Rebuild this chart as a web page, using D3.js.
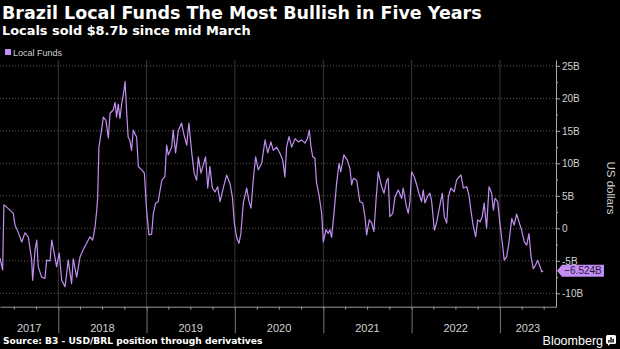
<!DOCTYPE html>
<html>
<head>
<meta charset="utf-8">
<script src="https://cdn.jsdelivr.net/npm/d3@7"></script>
<style>
  html, body { margin: 0; padding: 0; background: #000; }
  svg { display: block; }
</style>
</head>
<body>
<svg id="chart" width="620" height="349"></svg>
<script>
// Net USD/BRL position of local funds, B3 derivatives (billions of US dollars)
const dates = [
  "2017-05-05","2017-05-16","2017-05-21","2017-05-26","2017-06-15","2017-06-29","2017-07-06","2017-07-20",
  "2017-08-03","2017-08-16","2017-08-30","2017-09-13","2017-09-17","2017-09-27","2017-10-04","2017-10-10",
  "2017-10-24","2017-11-07","2017-11-14","2017-11-28","2017-12-05","2017-12-11","2017-12-18","2017-12-25",
  "2018-01-05","2018-01-15","2018-01-29","2018-02-11","2018-02-25","2018-03-04","2018-03-18","2018-04-01",
  "2018-04-14","2018-04-28","2018-05-12","2018-05-23","2018-06-02","2018-06-09","2018-06-13","2018-06-18",
  "2018-06-27","2018-07-06","2018-07-17","2018-07-27","2018-08-03","2018-08-16","2018-08-24","2018-08-30",
  "2018-09-06","2018-09-13","2018-09-20","2018-09-30","2018-10-04","2018-10-11","2018-10-17","2018-10-24",
  "2018-10-31","2018-11-07","2018-11-21","2018-11-28","2018-12-12","2018-12-23","2019-01-01","2019-01-11",
  "2019-01-22","2019-01-29","2019-02-08","2019-02-18","2019-03-05","2019-03-18","2019-03-25","2019-04-01",
  "2019-04-15","2019-04-21","2019-05-01","2019-05-12","2019-05-26","2019-06-02","2019-06-16","2019-06-25",
  "2019-07-07","2019-07-17","2019-07-27","2019-08-03","2019-08-14","2019-08-24","2019-09-02","2019-09-11",
  "2019-09-20","2019-09-30","2019-10-11","2019-10-22","2019-11-01","2019-11-14","2019-11-28","2019-12-12",
  "2019-12-22","2019-12-30","2020-01-09","2020-01-18","2020-01-26","2020-02-05","2020-02-19","2020-02-29",
  "2020-03-08","2020-03-17","2020-03-27","2020-04-07","2020-04-21","2020-05-05","2020-05-16","2020-05-29",
  "2020-06-08","2020-06-22","2020-07-06","2020-07-17","2020-07-26","2020-08-02","2020-08-12","2020-08-23",
  "2020-09-06","2020-09-19","2020-10-03","2020-10-17","2020-10-27","2020-11-04","2020-11-10","2020-11-18",
  "2020-11-27","2020-12-04","2020-12-15","2020-12-25","2021-01-01","2021-01-12","2021-01-21","2021-01-28",
  "2021-02-04","2021-02-14","2021-02-25","2021-03-07","2021-03-14","2021-03-27","2021-04-10","2021-04-21",
  "2021-04-28","2021-05-05","2021-05-19","2021-06-01","2021-06-13","2021-06-22","2021-06-29","2021-07-10",
  "2021-07-20","2021-07-29","2021-08-07","2021-08-16","2021-08-30","2021-09-09","2021-09-20","2021-09-26",
  "2021-10-03","2021-10-15","2021-10-24","2021-11-07","2021-11-21","2021-11-27","2021-12-11","2021-12-18",
  "2021-12-25","2022-01-01","2022-01-12","2022-01-22","2022-01-31","2022-02-11","2022-02-18","2022-02-25",
  "2022-03-08","2022-03-18","2022-03-25","2022-04-05","2022-04-15","2022-04-24","2022-05-08","2022-05-16",
  "2022-05-26","2022-06-02","2022-06-13","2022-06-26","2022-07-06","2022-07-16","2022-07-24","2022-08-03",
  "2022-08-17","2022-08-26","2022-09-03","2022-09-13","2022-09-23","2022-10-01","2022-10-11","2022-10-20",
  "2022-10-28","2022-11-07","2022-11-17","2022-11-28","2022-12-05","2022-12-12","2022-12-23","2023-01-01",
  "2023-01-11","2023-01-19","2023-01-29","2023-02-07","2023-02-19","2023-03-01","2023-03-11","2023-03-21",
  "2023-04-01","2023-04-12","2023-04-22","2023-05-01","2023-05-10","2023-05-19","2023-05-29","2023-06-06",
  "2023-06-16","2023-06-23","2023-06-29"
];
const localFunds = [
  -4.6, -6.4, 3.6, 3.5, 2.8, 2.3, 0.5, -0.7,
  -2.1, -0.7, -1.3, -4.9, -8.0, -3.3, -1.8, -5.9,
  -7.5, -7.7, -4.9, -5.0, -1.8, -3.0, -4.4, -5.9,
  -3.8, -8.0, -9.0, -4.9, -8.5, -4.7, -7.5, -4.4,
  -3.3, -2.3, -1.3, -1.8, 0.2, 2.8, 4.8, 12.5,
  14.6, 17.1, 16.6, 13.9, 17.7, 18.2, 19.4, 17.1,
  19.1, 16.9, 19.1, 21.3, 22.6, 17.7, 14.0, 13.5,
  12.0, 15.1, 14.0, 9.5, 9.0, 8.5, 2.8, -1.0,
  -0.9, 2.3, 3.9, 4.1, 7.4, 8.0, 12.8, 11.3,
  12.5, 15.1, 11.6, 15.0, 16.2, 14.8, 12.8, 16.2,
  11.6, 8.5, 7.4, 11.0, 8.5, 9.8, 11.0, 6.2,
  9.5, 6.2, 5.6, 6.4, 4.1, 6.2, 8.2, 6.9,
  4.8, 0.8, -1.5, -2.3, -0.8, 3.9, 6.2, 4.1,
  3.1, 7.4, 11.0, 9.0, 10.0, 13.6, 11.6, 13.3,
  12.0, 12.5, 11.5, 10.5, 7.9, 12.5, 14.1, 12.5,
  13.8, 13.3, 13.6, 13.1, 13.8, 15.1, 12.8, 11.0,
  10.8, 7.0, 4.9, 2.3, -2.1, -0.2, -0.8, -0.2,
  -1.4, 2.3, 7.0, 10.0, 8.7, 11.3, 10.5, 9.2,
  6.7, 7.7, 7.4, 4.1, 3.9, 1.8, -1.0, 1.3,
  0.8, -0.5, 4.4, 8.7, 6.4, 5.4, 7.4, 7.7,
  1.8, 2.3, 4.8, 5.9, 4.6, 6.2, 3.3, 2.3,
  4.1, 8.7, 7.9, 6.7, 5.4, 4.1, 5.9, 3.9,
  4.9, 5.4, 4.1, -0.3, 1.0, 2.8, 5.4, 1.8,
  0.8, 4.9, 6.2, 5.6, 7.4, 7.9, 8.2, 6.2,
  6.4, 5.1, 2.8, 0.3, -1.3, 1.3, 1.0, 1.8,
  3.9, 0.0, 6.4, 5.4, 2.8, 4.6, 4.1, 0.8,
  -2.3, -4.9, -4.4, -2.3, 1.5, 0.5, 2.2, 1.0,
  -0.3, -2.1, -2.6, -0.8, -4.4, -6.2, -5.6, -4.9,
  -5.9, -6.7, -6.524
];
const yTicks = [-10, -5, 0, 5, 10, 15, 20, 25];
const yMinorTicks = [-12.5, -7.5, -2.5, 2.5, 7.5, 12.5, 17.5, 22.5];
const yearLabels = ["2017", "2018", "2019", "2020", "2021", "2022", "2023"];

const title = "Brazil Local Funds The Most Bullish in Five Years";
const subtitle = "Locals sold $8.7b since mid March";
const seriesName = "Local Funds";
const source = "Source: B3 - USD/BRL position through derivatives";

const parse = d3.utcParse("%Y-%m-%d");
const series = dates.map((d, i) => ({ date: parse(d), value: localFunds[i] }));
const last = series[series.length - 1];

const lineColor = "#c28ef2";
const plot = { left: 0, right: 556, top: 60, bottom: 306.7 };

const svg = d3.select("#chart");
svg.append("rect").attr("width", 620).attr("height", 349).attr("fill", "#000");

const x = d3.scaleUtc()
  .domain([parse("2017-05-05"), parse("2023-08-21")])
  .range([plot.left, plot.right]);
const y = d3.scaleLinear()
  .domain([-12.06, 25.9])
  .range([plot.bottom, plot.top]);

// Horizontal dotted gridlines
svg.append("g")
  .selectAll("line")
  .data(yTicks)
  .join("line")
  .attr("x1", plot.left).attr("x2", plot.right)
  .attr("y1", d => y(d)).attr("y2", d => y(d))
  .attr("stroke", "#5a5a5a")
  .attr("stroke-width", 1)
  .attr("stroke-dasharray", "1,2");

// Vertical year gridlines
const yearStarts = x.ticks(d3.utcYear.every(1)).filter(d => x(d) > plot.left + 1);
svg.append("g")
  .selectAll("line")
  .data(yearStarts)
  .join("line")
  .attr("x1", d => x(d)).attr("x2", d => x(d))
  .attr("y1", plot.top).attr("y2", plot.bottom)
  .attr("stroke", "#383838")
  .attr("stroke-width", 1);

// Bottom axis: quarter ticks
const xAxis = svg.append("g")
  .attr("transform", `translate(0,${plot.bottom})`)
  .call(d3.axisBottom(x)
    .ticks(d3.utcMonth.every(3))
    .tickSize(3)
    .tickSizeOuter(0)
    .tickFormat(""));
xAxis.select(".domain").attr("stroke", "#999");
xAxis.selectAll(".tick line").attr("stroke", "#999");

// Bottom axis: year separators
const yearAxis = svg.append("g")
  .attr("transform", `translate(0,${plot.bottom})`)
  .call(d3.axisBottom(x)
    .tickValues(yearStarts)
    .tickSize(26.5)
    .tickSizeOuter(0)
    .tickFormat(""));
yearAxis.select(".domain").remove();
yearAxis.selectAll(".tick line").attr("stroke", "#777");

// Year labels centred in each visible year span
const bounds = [plot.left, ...yearStarts.map(d => x(d)), plot.right];
svg.append("g")
  .selectAll("text")
  .data(yearLabels)
  .join("text")
  .attr("x", (d, i) => (bounds[i] + bounds[i + 1]) / 2)
  .attr("y", 332)
  .attr("text-anchor", "middle")
  .attr("fill", "#d0d0d0")
  .style("font-family", "'Liberation Sans', Arial, sans-serif")
  .style("font-size", "11px")
  .text(d => d);

// Right value axis
const fmt = v => v === 0 ? "0" : `${v}B`;
const yAxis = svg.append("g")
  .attr("transform", `translate(${plot.right},0)`)
  .call(d3.axisRight(y)
    .tickValues(yTicks)
    .tickSize(4)
    .tickSizeOuter(0)
    .tickPadding(2)
    .tickFormat(fmt));
yAxis.select(".domain").attr("stroke", "#aaa");
yAxis.selectAll(".tick line").attr("stroke", "#aaa");
yAxis.selectAll(".tick text")
  .attr("fill", "#d0d0d0")
  .style("font-family", "'Liberation Sans', Arial, sans-serif")
  .style("font-size", "10px");

const yMinor = svg.append("g")
  .attr("transform", `translate(${plot.right},0)`)
  .call(d3.axisRight(y)
    .tickValues(yMinorTicks.filter(v => y(v) <= plot.bottom && y(v) >= plot.top))
    .tickSize(2)
    .tickSizeOuter(0)
    .tickFormat(""));
yMinor.select(".domain").remove();
yMinor.selectAll(".tick line").attr("stroke", "#aaa");

svg.append("text")
  .attr("transform", `translate(607,${188}) rotate(90)`)
  .attr("text-anchor", "middle")
  .attr("fill", "#d0d0d0")
  .style("font-family", "'Liberation Sans', Arial, sans-serif")
  .style("font-size", "11.5px")
  .text("US dollars");

// Series line
const line = d3.line()
  .x(d => x(d.date))
  .y(d => y(d.value));
svg.append("path")
  .datum(series)
  .attr("fill", "none")
  .attr("stroke", lineColor)
  .attr("stroke-width", 1.2)
  .attr("stroke-linejoin", "round")
  .attr("d", line);

// Last value flag on the axis
const ly = y(last.value);
const flag = svg.append("g").attr("transform", `translate(${plot.right + 1},${ly})`);
flag.append("path")
  .attr("d", "M0,0 L5,-6 L47,-6 L47,6 L5,6 Z")
  .attr("fill", lineColor);
flag.append("text")
  .attr("x", 26)
  .attr("y", 3.6)
  .attr("text-anchor", "middle")
  .attr("fill", "#2a1740")
  .style("font-family", "'Liberation Sans', Arial, sans-serif")
  .style("font-size", "10px")
  .text(d3.format(".3f")(last.value) + "B");

// Titles
svg.append("text")
  .attr("x", 2).attr("y", 18.5)
  .attr("fill", "#fff")
  .style("font-family", "'DejaVu Sans', sans-serif")
  .style("font-weight", "bold")
  .style("font-size", "17.5px")
  .text(title);
svg.append("text")
  .attr("x", 2).attr("y", 35)
  .attr("fill", "#fff")
  .style("font-family", "'DejaVu Sans', sans-serif")
  .style("font-weight", "bold")
  .style("font-size", "12.9px")
  .text(subtitle);

// Legend
svg.append("rect")
  .attr("x", 5).attr("y", 49).attr("width", 6).attr("height", 6)
  .attr("fill", lineColor);
svg.append("text")
  .attr("x", 13).attr("y", 55.5)
  .attr("fill", "#d0d0d0")
  .style("font-family", "'Liberation Sans', Arial, sans-serif")
  .style("font-size", "9px")
  .text(seriesName);

// Footer
svg.append("text")
  .attr("x", 3).attr("y", 344)
  .attr("fill", "#fff")
  .style("font-family", "'DejaVu Sans', sans-serif")
  .style("font-weight", "bold")
  .style("font-size", "9.1px")
  .text(source);

svg.append("text")
  .attr("x", 603).attr("y", 345)
  .attr("text-anchor", "end")
  .attr("fill", "#fff")
  .style("font-family", "'Liberation Sans', Arial, sans-serif")
  .style("font-size", "12.5px")
  .text("Bloomberg");

// Bloomberg mark
const mark = svg.append("g").attr("transform", "translate(606,335)");
mark.append("path")
  .attr("d", "M1.5,0 H8.5 Q10,0 10,1.5 V7.5 Q10,9 8.5,9 H4 L2,11 V9 H1.5 Q0,9 0,7.5 V1.5 Q0,0 1.5,0 Z")
  .attr("fill", "#fff");
mark.append("rect").attr("x", 2.2).attr("y", 5).attr("width", 1.4).attr("height", 2.6).attr("fill", "#000");
mark.append("rect").attr("x", 4.3).attr("y", 2.2).attr("width", 1.4).attr("height", 5.4).attr("fill", "#000");
mark.append("rect").attr("x", 6.4).attr("y", 3.8).attr("width", 1.4).attr("height", 3.8).attr("fill", "#000");
</script>
</body>
</html>
